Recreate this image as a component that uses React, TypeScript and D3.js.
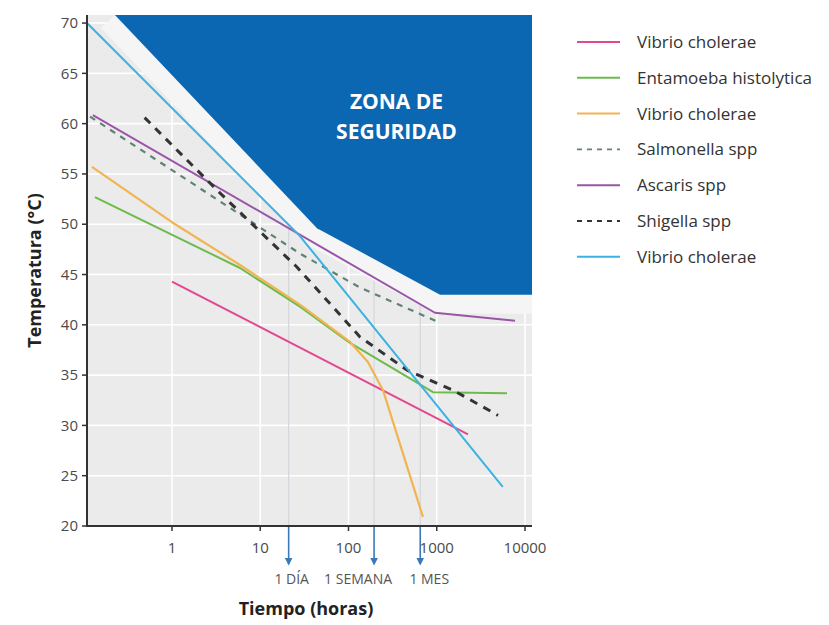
import React from "react";
import * as d3 from "d3";

const WIDTH = 829;
const HEIGHT = 625;
const PLOT = { left: 87, right: 532, top: 15, bottom: 526 };

const X_DOMAIN = [0.109, 12000];
const Y_DOMAIN = [20, 70.8];
const xTicks = [1, 10, 100, 1000, 10000];
const yTicks = [20, 25, 30, 35, 40, 45, 50, 55, 60, 65, 70];

// zona de seguridad (lower edge, left to right)
const zoneHours = [0.226, 44, 1090, 12000];
const zoneTemp = [70.8, 49.6, 43.0, 43.0];
const zoneLabel = ["ZONA DE", "SEGURIDAD"];

// series (hours, temperature)
const vibrioAHours = [1, 2260];
const vibrioATemp = [44.3, 29.1];
const entamoebaHours = [0.134, 5.9, 28.2, 104, 907, 6250];
const entamoebaTemp = [52.7, 45.65, 41.8, 38.2, 33.3, 33.2];
const vibrioBHours = [0.124, 1, 5.9, 28.2, 104, 166, 246, 698];
const vibrioBTemp = [55.7, 50.2, 45.95, 42.0, 38.3, 36.3, 33.5, 20.9];
const salmonellaHours = [0.118, 28, 135, 1090];
const salmonellaTemp = [60.7, 47.1, 43.7, 40.2];
const ascarisHours = [0.127, 955, 7700];
const ascarisTemp = [60.85, 41.2, 40.4];
const shigellaHours = [0.49, 3.5, 26, 135, 460, 1530, 4950];
const shigellaTemp = [60.6, 53.1, 45.75, 38.8, 35.5, 33.5, 31.0];
const vibrioCHours = [0.109, 28.3, 5600];
const vibrioCTemp = [70, 48.8, 23.9];

const seriesNames = [
  "Vibrio cholerae",
  "Entamoeba histolytica",
  "Vibrio cholerae",
  "Salmonella spp",
  "Ascaris spp",
  "Shigella spp",
  "Vibrio cholerae",
];
const seriesColors = ["#e2488f", "#6dbb4c", "#f2b450", "#5f8372", "#9a55a9", "#333333", "#3cb2e2"];
const seriesDash = [null, null, null, "6,6", null, "8,7", null];
const seriesWidth = [2, 2, 2.2, 2.2, 2, 3, 2];
const seriesHours = [vibrioAHours, entamoebaHours, vibrioBHours, salmonellaHours, ascarisHours, shigellaHours, vibrioCHours];
const seriesTemp = [vibrioATemp, entamoebaTemp, vibrioBTemp, salmonellaTemp, ascarisTemp, shigellaTemp, vibrioCTemp];

// marcas de tiempo
const markHours = [21, 195, 650];
const markLabels = ["1 DÍA", "1 SEMANA", "1 MES"];
const markLabelShift = [3, -16, 9];

const FONT = "'Open Sans', sans-serif";

export default function App() {
  const x = d3.scaleLog().domain(X_DOMAIN).range([PLOT.left, PLOT.right]);
  const y = d3.scaleLinear().domain(Y_DOMAIN).range([PLOT.bottom, PLOT.top]);

  const line = d3
    .line<[number, number]>()
    .x((d) => x(d[0]))
    .y((d) => y(d[1]));

  const zonePts: [number, number][] = zoneHours.map((h, i) => [h, zoneTemp[i]]);
  const edgePath = line(zonePts) || "";
  const zonePath = edgePath + `L${x(X_DOMAIN[1])},${y(Y_DOMAIN[1])}Z`;
  const zoneCx = x(350);

  return (
    <svg
      width={WIDTH}
      height={HEIGHT}
      style={{ position: "absolute", left: 0, top: 0, background: "#fff" }}
    >
      <defs>
        <clipPath id="plot">
          <rect x={PLOT.left} y={PLOT.top} width={PLOT.right - PLOT.left} height={PLOT.bottom - PLOT.top} />
        </clipPath>
        <marker id="arrow" viewBox="0 0 10 10" refX="8" refY="5" markerWidth="5" markerHeight="5" orient="auto">
          <path d="M0,0 L10,5 L0,10 Z" fill="#3a78b8" />
        </marker>
      </defs>

      <rect x={PLOT.left} y={PLOT.top} width={PLOT.right - PLOT.left} height={PLOT.bottom - PLOT.top} fill="#ebebeb" />

      {yTicks.slice(1).map((t) => (
        <line key={"gy" + t} x1={PLOT.left} x2={PLOT.right} y1={y(t)} y2={y(t)} stroke="#fff" strokeWidth={1.6} />
      ))}
      {xTicks.map((t) => (
        <line key={"gx" + t} x1={x(t)} x2={x(t)} y1={PLOT.top} y2={PLOT.bottom} stroke="#fff" strokeWidth={1.6} />
      ))}

      {markHours.map((h) => (
        <line key={"m" + h} x1={x(h)} x2={x(h)} y1={PLOT.top} y2={PLOT.bottom} stroke="#d3d6da" strokeWidth={1.2} />
      ))}

      <g clipPath="url(#plot)">
        <path d={edgePath} fill="none" stroke="#f5f5f5" strokeWidth={38} strokeLinejoin="round" />
        <path d={zonePath} fill="#0b67b2" />
      </g>

      <text fill="#fff" fontFamily={FONT} fontWeight={700} fontSize={21} textAnchor="middle">
        {zoneLabel.map((s, i) => (
          <tspan key={s} x={zoneCx} y={y(61.5) + i * 30}>
            {s}
          </tspan>
        ))}
      </text>

      <g clipPath="url(#plot)">
        {seriesHours.map((hs, i) => (
          <path
            key={"s" + i}
            d={line(hs.map((h, j) => [h, seriesTemp[i][j]] as [number, number])) || ""}
            fill="none"
            stroke={seriesColors[i]}
            strokeWidth={seriesWidth[i]}
            strokeDasharray={seriesDash[i] || undefined}
            strokeLinejoin="round"
          />
        ))}
      </g>

      {/* axes */}
      <line x1={PLOT.left} x2={PLOT.left} y1={PLOT.top} y2={PLOT.bottom + 1} stroke="#333" strokeWidth={2} />
      <line x1={PLOT.left - 1} x2={PLOT.right} y1={PLOT.bottom} y2={PLOT.bottom} stroke="#333" strokeWidth={2} />
      {yTicks.map((t) => (
        <g key={"ty" + t}>
          <line x1={PLOT.left - 5} x2={PLOT.left} y1={y(t)} y2={y(t)} stroke="#333" strokeWidth={1.5} />
          <text x={PLOT.left - 9} y={y(t)} dy="0.35em" textAnchor="end" fontFamily={FONT} fontSize={15} fill="#4a4a4a">
            {t}
          </text>
        </g>
      ))}
      {xTicks.map((t) => (
        <g key={"tx" + t}>
          <line x1={x(t)} x2={x(t)} y1={PLOT.bottom} y2={PLOT.bottom + 5} stroke="#333" strokeWidth={1.5} />
          <text x={x(t)} y={PLOT.bottom + 22} dy="0.35em" textAnchor="middle" fontFamily={FONT} fontSize={15} fill="#4a4a4a">
            {t}
          </text>
        </g>
      ))}

      {markHours.map((h, i) => (
        <g key={"a" + h}>
          <line
            x1={x(h)}
            x2={x(h)}
            y1={PLOT.bottom + 1}
            y2={PLOT.bottom + 38}
            stroke="#3a78b8"
            strokeWidth={1.6}
            markerEnd="url(#arrow)"
          />
          <text
            x={x(h) + markLabelShift[i]}
            y={PLOT.bottom + 53}
            dy="0.35em"
            textAnchor="middle"
            fontFamily={FONT}
            fontSize={14}
            fill="#555"
          >
            {markLabels[i]}
          </text>
        </g>
      ))}

      <text x={306} y={609} dy="0.35em" textAnchor="middle" fontFamily={FONT} fontWeight={700} fontSize={18} fill="#222">
        Tiempo (horas)
      </text>
      <text
        transform={`translate(35,${(PLOT.top + PLOT.bottom) / 2}) rotate(-90)`}
        dy="0.35em"
        textAnchor="middle"
        fontFamily={FONT}
        fontWeight={700}
        fontSize={18}
        fill="#222"
      >
        Temperatura (°C)
      </text>

      {/* legend */}
      {seriesNames.map((name, i) => {
        const ly = 42 + i * 35.8;
        return (
          <g key={"l" + i}>
            <line
              x1={577}
              x2={620}
              y1={ly}
              y2={ly}
              stroke={seriesColors[i]}
              strokeWidth={seriesDash[i] ? 1.8 : 2}
              strokeDasharray={seriesDash[i] ? "5,5" : undefined}
            />
            <text x={637} y={ly} dy="0.35em" fontFamily={FONT} fontSize={17} fill="#333">
              {name}
            </text>
          </g>
        );
      })}
    </svg>
  );
}
